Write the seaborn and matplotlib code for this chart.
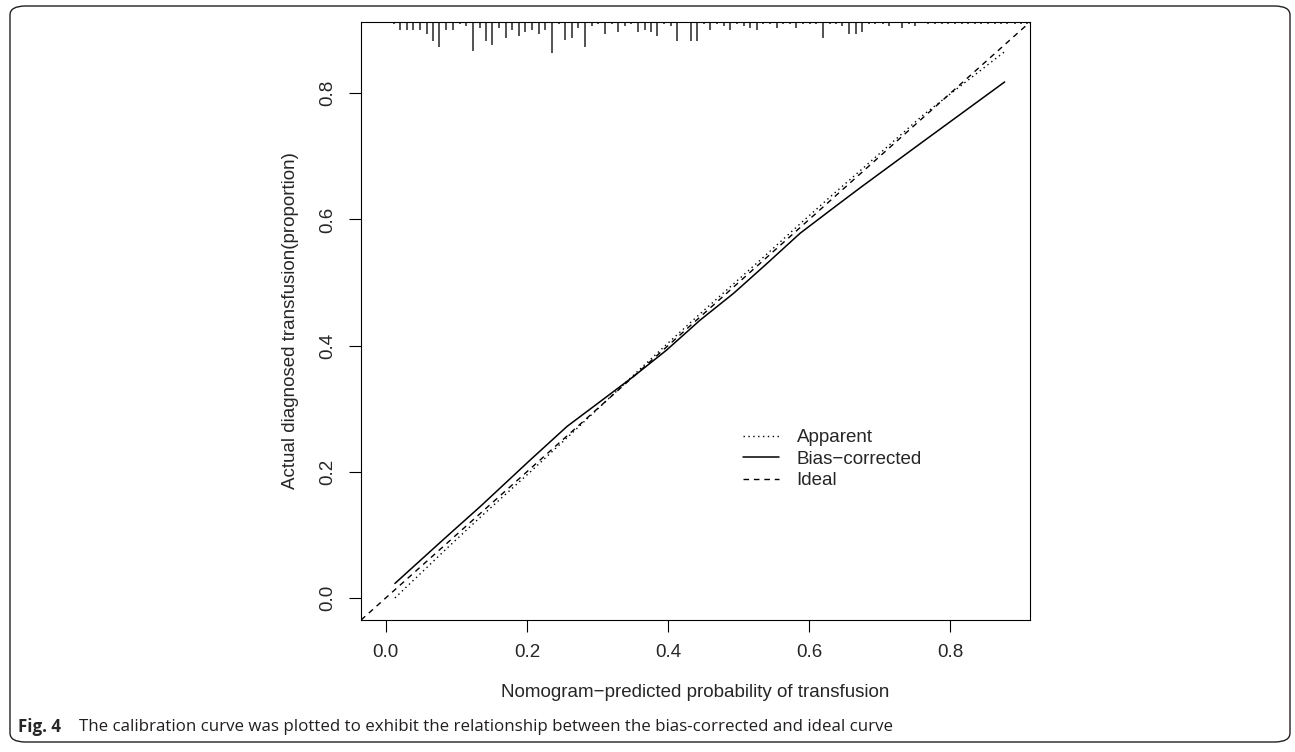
import matplotlib
matplotlib.use("Agg")
import matplotlib.pyplot as plt
import seaborn as sns
from matplotlib.patches import FancyBboxPatch

# Calibration curves
pred_prob = [0.013, 0.086, 0.134, 0.205, 0.257, 0.313, 0.351, 0.398, 0.445,
             0.493, 0.540, 0.587, 0.634, 0.672, 0.762, 0.877]
bias_corrected = [0.023, 0.097, 0.145, 0.219, 0.272, 0.319, 0.351, 0.393, 0.440,
                  0.483, 0.530, 0.578, 0.618, 0.650, 0.724, 0.818]
apparent = [0.000, 0.078, 0.128, 0.200, 0.254, 0.313, 0.353, 0.402, 0.450,
            0.498, 0.545, 0.593, 0.640, 0.677, 0.766, 0.866]

# Distribution of predicted probabilities (spike histogram along the top)
rug_x = [0.011, 0.020, 0.030, 0.039, 0.048, 0.058, 0.067, 0.076, 0.086, 0.095,
         0.105, 0.114, 0.123, 0.133, 0.142, 0.151, 0.161, 0.170, 0.179, 0.189,
         0.198, 0.207, 0.217, 0.226, 0.236, 0.245, 0.254, 0.264, 0.273, 0.282,
         0.292, 0.301, 0.310, 0.320, 0.329, 0.339, 0.348, 0.357, 0.367, 0.376,
         0.385, 0.395, 0.404, 0.413, 0.423, 0.432, 0.441, 0.451, 0.460, 0.470,
         0.479, 0.488, 0.498, 0.507, 0.516, 0.526, 0.535, 0.544, 0.554, 0.563,
         0.573, 0.582, 0.591, 0.601, 0.610, 0.619, 0.629, 0.638, 0.647, 0.657,
         0.666, 0.675, 0.685, 0.694, 0.704, 0.713, 0.722, 0.732, 0.741, 0.750,
         0.760, 0.769, 0.778, 0.788, 0.797, 0.807, 0.816, 0.825, 0.835, 0.844,
         0.853, 0.863, 0.872, 0.881, 0.891, 0.900, 0.909]
rug_n = [1, 4, 4, 4, 4, 6, 10, 13, 4, 4,
         1, 2, 15, 3, 10, 12, 3, 8, 4, 7,
         5, 4, 6, 4, 16, 1, 9, 8, 3, 13,
         2, 1, 6, 1, 5, 2, 1, 5, 4, 5,
         7, 1, 2, 10, 0, 10, 10, 1, 4, 1,
         2, 4, 1, 2, 3, 4, 1, 1, 3, 1,
         1, 3, 1, 1, 1, 8, 1, 1, 2, 6,
         6, 5, 1, 1, 1, 2, 0, 3, 1, 2,
         0, 1, 1, 1, 1, 1, 1, 1, 1, 1,
         1, 1, 1, 1, 1, 1, 1]

ticks = [0.0, 0.2, 0.4, 0.6, 0.8]
lims = (-0.035, 0.913)

sns.set_theme(style="ticks")
plt.rcParams['font.family'] = ['Liberation Sans', 'DejaVu Sans']
plt.rcParams['axes.linewidth'] = 0.8

fig = plt.figure(figsize=(12.95, 7.52), dpi=100)
ax = fig.add_axes([0.2788, 0.1755, 0.5166, 0.7952])

# ideal line
ax.axline((0, 0), (1, 1), color='black', lw=1.0, linestyle=(0, (4, 3.5)), label='Ideal')
sns.lineplot(x=pred_prob, y=apparent, ax=ax, color='black', lw=1.0,
             linestyle=(0, (1, 2.5)), label='Apparent', estimator=None, sort=False)
sns.lineplot(x=pred_prob, y=bias_corrected, ax=ax, color='black', lw=1.1,
             linestyle='-', label='Bias\u2212corrected', estimator=None, sort=False)

# spikes hanging from the top axis
spike_scale = 0.00325
ax.vlines(rug_x, [1 - n * spike_scale for n in rug_n], 1,
          transform=ax.get_xaxis_transform(), color='#444444', lw=1.3)

ax.set_xlim(lims)
ax.set_ylim(lims)
ax.set_xticks(ticks)
ax.set_yticks(ticks)
ax.set_xticklabels([f"{t:.1f}" for t in ticks])
ax.set_yticklabels([f"{t:.1f}" for t in ticks])
ax.tick_params(axis='both', labelsize=13.5, length=8.6, width=0.8, pad=9, color='black')
for lab in ax.get_yticklabels():
    lab.set_rotation(90)
    lab.set_va('center')
for sp in ax.spines.values():
    sp.set_visible(True)
    sp.set_color('black')

ax.set_xlabel("Nomogram\u2212predicted probability of transfusion", fontsize=13.5)
ax.set_ylabel("Actual diagnosed transfusion(proportion)", fontsize=13.5)
ax.xaxis.set_label_coords(0.5, -0.107)
ax.yaxis.set_label_coords(-0.093, 0.5)

handles, labels = ax.get_legend_handles_labels()
order = [labels.index('Apparent'), labels.index('Bias\u2212corrected'), labels.index('Ideal')]
ax.legend([handles[i] for i in order], [labels[i] for i in order],
          loc='upper left', bbox_to_anchor=(0.571, 0.319), frameon=False,
          fontsize=13.5, handlelength=1.9, handletextpad=0.95,
          labelspacing=0.23, borderpad=0, borderaxespad=0)

# journal frame and caption
frame = FancyBboxPatch((10 / 1295, 10 / 752), 1290 / 1295 - 10 / 1295, 746 / 752 - 10 / 752,
                       boxstyle="round,pad=0,rounding_size=0.012",
                       transform=fig.transFigure, fill=False, ec='#231f20', lw=1.0)
fig.patches.append(frame)
fig.text(18 / 1295, 1 - 727 / 752, "Fig. 4", fontsize=12.2, fontweight='bold',
         family=['Open Sans', 'DejaVu Sans'], va='center', ha='left')
fig.text(79 / 1295, 1 - 727 / 752,
         "The calibration curve was plotted to exhibit the relationship between the bias-corrected and ideal curve",
         fontsize=12.2, family=['Open Sans', 'DejaVu Sans'], va='center', ha='left', color='#231f20')

fig.savefig("out.png", dpi=100)
